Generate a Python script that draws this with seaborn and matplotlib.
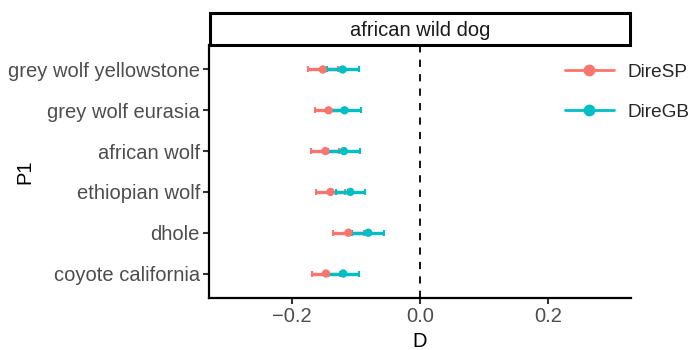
import matplotlib
matplotlib.use("Agg")
import matplotlib.pyplot as plt
import seaborn as sns
import pandas as pd
import numpy as np
from matplotlib.lines import Line2D
from matplotlib.patches import Rectangle

categories = ["grey wolf yellowstone", "grey wolf eurasia", "african wolf",
              "ethiopian wolf", "dhole", "coyote california"]
series = ["DireSP", "DireGB"]
d_sp = [-0.152, -0.143, -0.148, -0.140, -0.112, -0.147]
d_gb = [-0.121, -0.118, -0.119, -0.109, -0.081, -0.120]
err_sp = [0.023, 0.022, 0.022, 0.022, 0.024, 0.022]
err_gb = [0.025, 0.025, 0.025, 0.023, 0.025, 0.024]
colors = ["#F8766D", "#00BFC4"]
panel_title = "african wild dog"

sns.set_theme(style="white")
plt.rcParams["font.family"] = ["Liberation Sans", "DejaVu Sans"]

df = pd.DataFrame({
    "P1": categories * 2,
    "D": d_sp + d_gb,
    "err": err_sp + err_gb,
    "series": [series[0]] * len(categories) + [series[1]] * len(categories),
})

FS = 14.5
TFS = 14.5
LFS = 13.7

fig = plt.figure(figsize=(6.93, 3.5), dpi=100)
ax = fig.add_axes([209 / 693, 1 - 298 / 350, (631 - 209) / 693, (298 - 45) / 350])

pos = {c: i for i, c in enumerate(categories)}
for s, col in zip(series, colors):
    sub = df[df.series == s]
    ys = [pos[c] for c in sub.P1]
    ax.errorbar(sub.D, ys, xerr=sub.err, fmt="none", ecolor=col, elinewidth=2.4,
                capsize=2.2, capthick=1.5, zorder=2)
    sns.scatterplot(x=sub.D.values, y=ys, color=col, s=36, edgecolor="none",
                    ax=ax, zorder=3, legend=False)

ax.axvline(0, color="black", linestyle=(0, (4, 4)), linewidth=1.3, zorder=1)

ax.set_xlim(-0.33, 0.33)
ax.set_ylim(len(categories) - 1 + 0.6, -0.6)
ax.set_yticks(range(len(categories)))
ax.set_yticklabels(categories)
ax.set_xticks([-0.2, 0.0, 0.2])
ax.set_xticklabels(["\u22120.2", "0.0", "0.2"])
ax.tick_params(axis="both", labelsize=FS, labelcolor="#4D4D4D", color="#333333",
               length=4.5, width=1.5, direction="out", left=True, bottom=True, pad=2)
ax.set_xlabel("D", fontsize=TFS, color="black")
ax.xaxis.set_label_coords(0.5, (298 - 332) / 253)
ax.set_ylabel("P1", fontsize=TFS, color="black")
ax.yaxis.set_label_coords((34 - 209) / 422, 0.5)
for side in ["top", "right"]:
    ax.spines[side].set_visible(False)
for side in ["left", "bottom"]:
    ax.spines[side].set_color("black")
    ax.spines[side].set_linewidth(1.6)
ax.grid(False)

# strip
strip = Rectangle((210 / 693, 1 - 45 / 350), (630 - 210) / 693, (45 - 13) / 350,
                  transform=fig.transFigure, facecolor="white", edgecolor="black",
                  linewidth=2.2, zorder=5)
fig.patches.append(strip)
fig.text(420 / 693, 1 - 30 / 350, panel_title, ha="center", va="center",
         fontsize=TFS, color="#1A1A1A", zorder=6)

handles = [Line2D([0], [0], color=c, lw=2, marker="o", markersize=7.5) for c in colors]
fig.legend(handles, series, loc="upper left", bbox_to_anchor=(557 / 693, 1 - 56 / 350),
           frameon=False, fontsize=LFS, handlelength=2.6, labelspacing=1.2,
           handletextpad=0.7, borderaxespad=0)

fig.savefig("out.png", dpi=100)
